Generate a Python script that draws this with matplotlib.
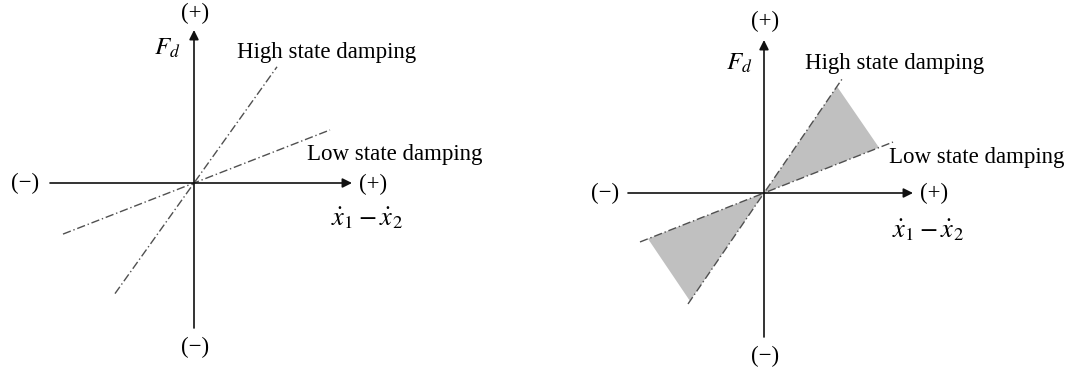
import numpy as np
import matplotlib.pyplot as plt

plt.rcParams['font.family'] = ['Liberation Serif', 'DejaVu Serif']
plt.rcParams['mathtext.fontset'] = 'stix'

# slopes of the two damping states (force per unit relative velocity)
high_slope = [1.40, 1.46]
low_slope = [0.39, 0.395]
# x extent of the dash-dot lines in each panel (negative end, positive end)
high_span = [(-79, 83), (-76, 79)]
low_span = [(-131, 136), (-124, 129)]
# x of the shaded region's corners on each line (right panel only)
shade_high_x = (-74, 73)
shade_low_x = (-116, 115)

# axis extents and label anchors per panel
x_axis = [(-144, 158), (-136, 149)]
y_axis = [(-145, 153), (-144, 153)]
limits = [((-194, 338.5), (-191, 183)), ((-231.5, 301), (-181, 193))]
pos_plus_top = [(1, 170), (1, 172)]
pos_minus_bot = [(1, -164), (1, -163)]
pos_minus_left = [(-169, 0), (-159, 0)]
pos_plus_right = [(179, -1), (170, 0)]
pos_fd = [(-27, 135), (-25, 130)]
pos_high = [(43, 131), (41, 130)]
pos_low = [(113, 29), (125, 36)]
pos_xlabel = [(173, -35), (164, -37)]

fs = 16.5
fig = plt.figure(figsize=(10.65, 3.74), dpi=100)

for i in range(2):
    ax = fig.add_axes([0.5 * i, 0, 0.5, 1])
    ax.set_xlim(*limits[i][0])
    ax.set_ylim(*limits[i][1])
    ax.axis('off')

    # coordinate axes with arrowheads
    arrow = dict(arrowstyle='-|>', mutation_scale=14, lw=1.2, color='#111111', shrinkA=0, shrinkB=0)
    ax.annotate('', xy=(x_axis[i][1], 0), xytext=(x_axis[i][0], 0), arrowprops=arrow)
    ax.annotate('', xy=(0, y_axis[i][1]), xytext=(0, y_axis[i][0]), arrowprops=arrow)

    if i == 1:
        for sx in [0, 1]:
            xh = shade_high_x[sx]
            xl = shade_low_x[sx]
            tri_x = [0, xh, xl]
            tri_y = [0, high_slope[i] * xh, low_slope[i] * xl]
            ax.fill(tri_x, tri_y, color='#c0c0c0', lw=0)

    for slope, span in [(high_slope[i], high_span[i]), (low_slope[i], low_span[i])]:
        xs = np.array(span)
        ax.plot(xs, slope * xs, color='#505050', lw=1.0, ls=(0, (6, 2, 1, 2)))

    ax.text(*pos_plus_top[i], '(+)', fontsize=fs, ha='center', va='center')
    ax.text(*pos_minus_bot[i], '(\u2212)', fontsize=fs, ha='center', va='center')
    ax.text(*pos_minus_left[i], '(\u2212)', fontsize=fs, ha='center', va='center')
    ax.text(*pos_plus_right[i], '(+)', fontsize=fs, ha='center', va='center')
    ax.text(*pos_fd[i], r'$F_d$', fontsize=18, ha='center', va='center')
    ax.text(*pos_high[i], 'High state damping', fontsize=fs, ha='left', va='center')
    ax.text(*pos_low[i], 'Low state damping', fontsize=fs, ha='left', va='center')
    ax.text(*pos_xlabel[i], r'$\dot{x}_1 - \dot{x}_2$', fontsize=19, ha='center', va='center')

fig.savefig('out.png', dpi=100)
